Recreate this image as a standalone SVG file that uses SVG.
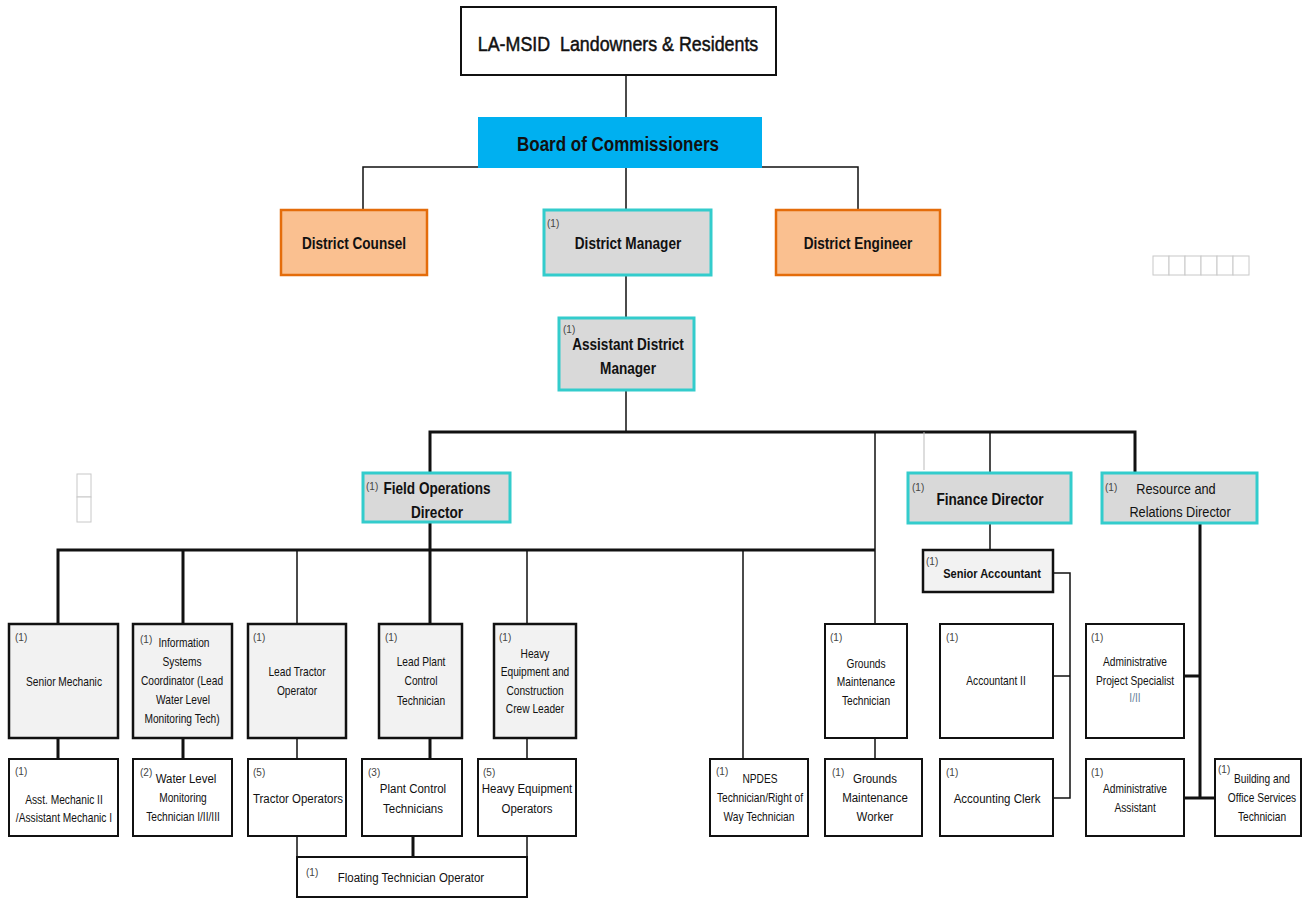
<svg xmlns="http://www.w3.org/2000/svg" width="1302" height="898" viewBox="0 0 1302 898">
<style>
text{font-family:"Liberation Sans",Arial,sans-serif;fill:#111;transform-box:fill-box;transform-origin:center;transform:scaleX(0.85);}
.t{text-anchor:middle;font-size:12px;}
.t14{text-anchor:middle;font-size:13.5px;}
.tb{text-anchor:middle;font-size:16px;font-weight:bold;}
.n{font-size:10px;fill:#444;transform:none;}
.box{fill:#fff;stroke:#111;stroke-width:2;}
.lead{fill:#f2f2f2;stroke:#111;stroke-width:2.5;}
.dir{fill:#d9d9d9;stroke:#33cccc;stroke-width:3;}
.org{fill:#fac090;stroke:#e46c0a;stroke-width:2.5;}
.ghost{fill:#fff;stroke:#c8c8c8;stroke-width:1;}
.c{fill:none;stroke:#111;stroke-width:1.5;}
.ct{fill:none;stroke:#111;stroke-width:3;}
</style>
<rect width="1302" height="898" fill="#fff"/>
<g id="connectors">
<path class="c" d="M626 75V117M626 168V210M363 210V167H858V210M626 275V318M626 390V432"/>
<path class="ct" d="M430 473V432H1135V473"/>
<path class="c" d="M875 432V625M990 432V473"/>
<path d="M924 432V470" stroke="#bbb" stroke-width="1" fill="none"/>
<path class="ct" d="M430 522V550M58 625V550H875M183 550V625M430 550V625"/>
<path class="c" d="M297 550V625M527 550V625M743 550V760"/>
<path class="ct" d="M58 738V759M183 738V759M430 738V759"/>
<path class="c" d="M297 738V759M527 738V759M875 738V759"/>
<path class="c" d="M297 836V857M527 836V857"/>
<path class="ct" d="M413 836V857"/>
<path class="c" d="M990 523V550M1053 573H1070V798H1053M1053 676H1070"/>
<path class="ct" d="M1200 523V798M1184 676H1200M1184 798H1215"/>
</g>
<g id="ghosts">
<rect class="ghost" x="1153" y="256" width="16" height="19"/>
<rect class="ghost" x="1169" y="256" width="16" height="19"/>
<rect class="ghost" x="1185" y="256" width="16" height="19"/>
<rect class="ghost" x="1201" y="256" width="16" height="19"/>
<rect class="ghost" x="1217" y="256" width="16" height="19"/>
<rect class="ghost" x="1233" y="256" width="16" height="19"/>
<rect class="ghost" x="77" y="474" width="14" height="23"/>
<rect class="ghost" x="77" y="497" width="14" height="25"/>
</g>
<g id="residents">
<rect x="461" y="7" width="315" height="68" fill="#fff" stroke="#111" stroke-width="2"/>
<text x="618" y="51" text-anchor="middle" font-size="21" style="stroke:#111;stroke-width:0.5">LA-MSID&#160; Landowners &amp; Residents</text>
</g>
<g id="board">
<rect x="478" y="117" width="284" height="51" fill="#00b0f0"/>
<text x="618" y="151" text-anchor="middle" font-size="20" font-weight="bold">Board of Commissioners</text>
</g>
<g id="counsel">
<rect class="org" x="281" y="210" width="146" height="65"/>
<text class="tb" x="354" y="249">District Counsel</text>
</g>
<g id="manager">
<rect class="dir" x="544" y="210" width="167" height="65"/>
<text class="n" x="547" y="227">(1)</text>
<text class="tb" x="628" y="249">District Manager</text>
</g>
<g id="engineer">
<rect class="org" x="776" y="210" width="164" height="65"/>
<text class="tb" x="858" y="249">District Engineer</text>
</g>
<g id="adm">
<rect class="dir" x="559" y="318" width="135" height="72"/>
<text class="n" x="563" y="333">(1)</text>
<text class="tb" x="628" y="350">Assistant District</text>
<text class="tb" x="628" y="374">Manager</text>
</g>
<g id="fod">
<rect class="dir" x="363" y="473" width="147" height="49"/>
<text class="n" x="366" y="490">(1)</text>
<text class="tb" x="437" y="494">Field Operations</text>
<text class="tb" x="437" y="518">Director</text>
</g>
<g id="finance">
<rect class="dir" x="908" y="473" width="163" height="50"/>
<text class="n" x="912" y="491">(1)</text>
<text class="tb" x="990" y="505">Finance Director</text>
</g>
<g id="resource">
<rect class="dir" x="1102" y="473" width="155" height="50"/>
<text class="n" x="1105" y="491">(1)</text>
<text x="1176" y="494" text-anchor="middle" font-size="15">Resource and</text>
<text x="1180" y="517" text-anchor="middle" font-size="15">Relations Director</text>
</g>
<g id="senior-accountant">
<rect class="lead" x="923" y="550" width="130" height="42"/>
<text class="n" x="926" y="565">(1)</text>
<text x="992" y="578" text-anchor="middle" font-size="13" font-weight="bold">Senior Accountant</text>
</g>
<g id="senior-mechanic">
<rect class="lead" x="9" y="624" width="109" height="114"/>
<text class="n" x="15" y="641">(1)</text>
<text class="t" x="64" y="686">Senior Mechanic</text>
</g>
<g id="info-systems">
<rect class="lead" x="133" y="624" width="99" height="114"/>
<text class="n" x="140" y="643">(1)</text>
<text class="t" x="184" y="647">Information</text>
<text class="t" x="182" y="666">Systems</text>
<text class="t" x="182" y="685">Coordinator (Lead</text>
<text class="t" x="183" y="704">Water Level</text>
<text class="t" x="182" y="723">Monitoring Tech)</text>
</g>
<g id="lead-tractor">
<rect class="lead" x="248" y="624" width="98" height="114"/>
<text class="n" x="253" y="641">(1)</text>
<text class="t" x="297" y="676">Lead Tractor</text>
<text class="t" x="297" y="695">Operator</text>
</g>
<g id="lead-plant">
<rect class="lead" x="379" y="624" width="83" height="114"/>
<text class="n" x="385" y="641">(1)</text>
<text class="t" x="421" y="666">Lead Plant</text>
<text class="t" x="421" y="685">Control</text>
<text class="t" x="421" y="705">Technician</text>
</g>
<g id="heavy-lead">
<rect class="lead" x="494" y="624" width="82" height="114" stroke-width="3"/>
<text class="n" x="499" y="641">(1)</text>
<text class="t" x="535" y="658">Heavy</text>
<text class="t" x="535" y="676">Equipment and</text>
<text class="t" x="535" y="695">Construction</text>
<text class="t" x="535" y="713">Crew Leader</text>
</g>
<g id="grounds-tech">
<rect class="box" x="825" y="624" width="82" height="114"/>
<text class="n" x="830" y="641">(1)</text>
<text class="t" x="866" y="668">Grounds</text>
<text class="t" x="866" y="686">Maintenance</text>
<text class="t" x="866" y="705">Technician</text>
</g>
<g id="accountant-2">
<rect class="box" x="940" y="624" width="113" height="114"/>
<text class="n" x="946" y="641">(1)</text>
<text class="t" x="996" y="685">Accountant II</text>
</g>
<g id="admin-specialist">
<rect class="box" x="1086" y="624" width="98" height="114"/>
<text class="n" x="1091" y="641">(1)</text>
<text class="t" x="1135" y="666">Administrative</text>
<text class="t" x="1135" y="685">Project Specialist</text>
<text class="t" x="1135" y="702" style="fill:#6a7f9a">I/II</text>
</g>
<g id="asst-mechanic">
<rect class="box" x="9" y="759" width="109" height="77"/>
<text class="n" x="15" y="775">(1)</text>
<text class="t" x="64" y="804">Asst. Mechanic II</text>
<text class="t" x="64" y="822">/Assistant Mechanic I</text>
</g>
<g id="water-level">
<rect class="box" x="133" y="759" width="99" height="77"/>
<text class="n" x="140" y="776">(2)</text>
<text class="t14" x="186" y="783">Water Level</text>
<text class="t" x="183" y="802">Monitoring</text>
<text class="t" x="183" y="821">Technician I/II/III</text>
</g>
<g id="tractor-ops">
<rect class="box" x="248" y="759" width="98" height="77"/>
<text class="n" x="253" y="776">(5)</text>
<text class="t14" x="298" y="803">Tractor Operators</text>
</g>
<g id="plant-control">
<rect class="box" x="362" y="759" width="100" height="77"/>
<text class="n" x="368" y="776">(3)</text>
<text class="t14" x="413" y="793">Plant Control</text>
<text class="t14" x="413" y="813">Technicians</text>
</g>
<g id="heavy-ops">
<rect class="box" x="478" y="759" width="98" height="77"/>
<text class="n" x="483" y="776">(5)</text>
<text class="t14" x="527" y="793">Heavy Equipment</text>
<text class="t14" x="527" y="813">Operators</text>
</g>
<g id="npdes">
<rect class="box" x="710" y="759" width="98" height="77"/>
<text class="n" x="716" y="775">(1)</text>
<text class="t" x="760" y="783">NPDES</text>
<text class="t" x="760" y="802">Technician/Right of</text>
<text class="t" x="759" y="821">Way Technician</text>
</g>
<g id="grounds-worker">
<rect class="box" x="825" y="759" width="97" height="77"/>
<text class="n" x="832" y="776">(1)</text>
<text class="t14" x="875" y="783">Grounds</text>
<text class="t14" x="875" y="802">Maintenance</text>
<text class="t14" x="875" y="821">Worker</text>
</g>
<g id="accounting-clerk">
<rect class="box" x="940" y="759" width="113" height="77"/>
<text class="n" x="946" y="776">(1)</text>
<text class="t14" x="997" y="803">Accounting Clerk</text>
</g>
<g id="admin-assistant">
<rect class="box" x="1086" y="759" width="98" height="77"/>
<text class="n" x="1091" y="776">(1)</text>
<text class="t" x="1135" y="793">Administrative</text>
<text class="t" x="1135" y="812">Assistant</text>
</g>
<g id="building-tech">
<rect class="box" x="1215" y="759" width="86" height="77"/>
<text class="n" x="1218" y="773">(1)</text>
<text class="t" x="1262" y="783">Building and</text>
<text class="t" x="1262" y="802">Office Services</text>
<text class="t" x="1262" y="821">Technician</text>
</g>
<g id="floating">
<rect class="box" x="297" y="857" width="230" height="40"/>
<text class="n" x="306" y="876">(1)</text>
<text class="t14" x="411" y="882">Floating Technician Operator</text>
</g>
</svg>
